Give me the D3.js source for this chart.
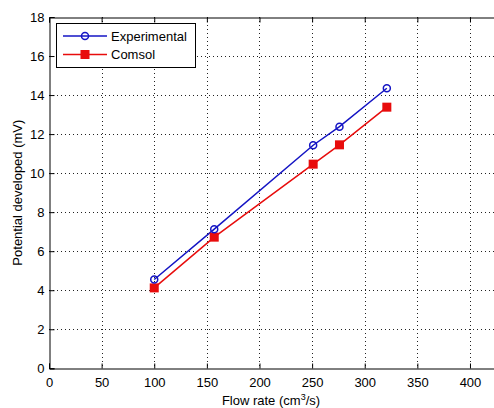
<!DOCTYPE html>
<html>
<head>
<meta charset="utf-8">
<script src="https://cdn.jsdelivr.net/npm/d3@7"></script>
<style>
  html, body { margin: 0; padding: 0; background: #fff; }
  svg { display: block; }
  text { font-family: Arial, "Liberation Sans", Helvetica, sans-serif; font-size: 13px; fill: #000; }
</style>
</head>
<body>
<script>
// ---- Data ----
const flowRate = [100, 157, 251, 276, 321];
const experimental = [4.55, 7.13, 11.43, 12.38, 14.35];
const comsol = [4.12, 6.72, 10.46, 11.45, 13.38];
const seriesNames = ["Experimental", "Comsol"];
const xTicks = [0, 50, 100, 150, 200, 250, 300, 350, 400];
const yTicks = [0, 2, 4, 6, 8, 10, 12, 14, 16, 18];
const xLabel = "Flow rate (cm";
const yLabel = "Potential developed (mV)";

(function () {
const W = 494, H = 408;
const pL = 49, pT = 17, pB = 368.3, pR = 522.6;
const blue = "#1414c4", red = "#e80c0c";

const svg = d3.select("body").append("svg").attr("width", W).attr("height", H);

const x = d3.scaleLinear().domain([0, 450]).range([pL, pR]);
const y = d3.scaleLinear().domain([0, 18]).range([pB, pT]);

// grid
const grid = svg.append("g");
grid.selectAll(".gx").data(xTicks.filter(d => d > 0)).enter().append("line")
  .attr("x1", d => Math.round(x(d)) + 0.5).attr("x2", d => Math.round(x(d)) + 0.5)
  .attr("y1", pT).attr("y2", pB)
  .attr("stroke", "#222").attr("stroke-width", 1).attr("stroke-dasharray", "1,3");
grid.selectAll(".gy").data(yTicks.filter(d => d > 0 && d < 18)).enter().append("line")
  .attr("y1", d => Math.round(y(d)) + 0.5).attr("y2", d => Math.round(y(d)) + 0.5)
  .attr("x1", pL).attr("x2", pR)
  .attr("stroke", "#222").attr("stroke-width", 1).attr("stroke-dasharray", "1,3");

// axes
const xAxis = svg.append("g").attr("transform", `translate(0,${Math.round(pB) + 0.5})`)
  .call(d3.axisBottom(x).tickValues(xTicks).tickSize(-5).tickPadding(9).tickFormat(d3.format("d")));
const xAxisTop = svg.append("g").attr("transform", `translate(0,${Math.round(pT) + 0.5})`)
  .call(d3.axisTop(x).tickValues(xTicks).tickSize(-5).tickFormat(""));
const yAxis = svg.append("g").attr("transform", `translate(${Math.round(pL) + 0.5},0)`)
  .call(d3.axisLeft(y).tickValues(yTicks).tickSize(-5).tickPadding(5).tickFormat(d3.format("d")));
[xAxis, xAxisTop, yAxis].forEach(g => {
  g.select(".domain").attr("stroke", "#000");
  g.selectAll(".tick line").attr("stroke", "#000");
  g.selectAll("text").attr("font-size", 13).attr("font-family", "Arial, 'Liberation Sans', sans-serif").attr("fill", "#000");
});
xAxis.selectAll("text").attr("dy", "0.71em");

// lines
const line = d3.line().x((d, i) => x(flowRate[i])).y(d => y(d));
svg.append("path").datum(experimental).attr("d", line)
  .attr("fill", "none").attr("stroke", blue).attr("stroke-width", 1.5);
svg.append("path").datum(comsol).attr("d", line)
  .attr("fill", "none").attr("stroke", red).attr("stroke-width", 1.5);

// markers
svg.selectAll(".sq").data(comsol).enter().append("rect")
  .attr("x", (d, i) => x(flowRate[i]) - 4.5).attr("y", d => y(d) - 4.5)
  .attr("width", 9).attr("height", 9).attr("fill", red);
svg.selectAll(".ci").data(experimental).enter().append("circle")
  .attr("cx", (d, i) => x(flowRate[i])).attr("cy", d => y(d)).attr("r", 3.5)
  .attr("fill", "none").attr("stroke", blue).attr("stroke-width", 1.5);

// labels
const xl = svg.append("text").attr("x", 271).attr("y", 405).attr("text-anchor", "middle");
xl.append("tspan").text(xLabel);
xl.append("tspan").attr("font-size", 9).attr("dy", -5).text("3");
xl.append("tspan").attr("dy", 5).text("/s)");
svg.append("text").attr("transform", `translate(22,${(pT + pB) / 2}) rotate(-90)`)
  .attr("text-anchor", "middle").text(yLabel);

// legend
const lg = svg.append("g");
lg.append("rect").attr("x", 56.5).attr("y", 23.5).attr("width", 139).attr("height", 44)
  .attr("fill", "#fff").attr("stroke", "#000");
const rows = [36, 54.5];
rows.forEach((ry, i) => {
  const col = i === 0 ? blue : red;
  lg.append("line").attr("x1", 63).attr("x2", 107).attr("y1", ry).attr("y2", ry)
    .attr("stroke", col).attr("stroke-width", 1.5);
  if (i === 0) {
    lg.append("circle").attr("cx", 85).attr("cy", ry).attr("r", 3.5)
      .attr("fill", "none").attr("stroke", col).attr("stroke-width", 1.5);
  } else {
    lg.append("rect").attr("x", 85 - 4.5).attr("y", ry - 4.5).attr("width", 9).attr("height", 9).attr("fill", col);
  }
  lg.append("text").attr("x", 111).attr("y", ry + 4.5).text(seriesNames[i]);
});
})();
</script>
</body>
</html>
